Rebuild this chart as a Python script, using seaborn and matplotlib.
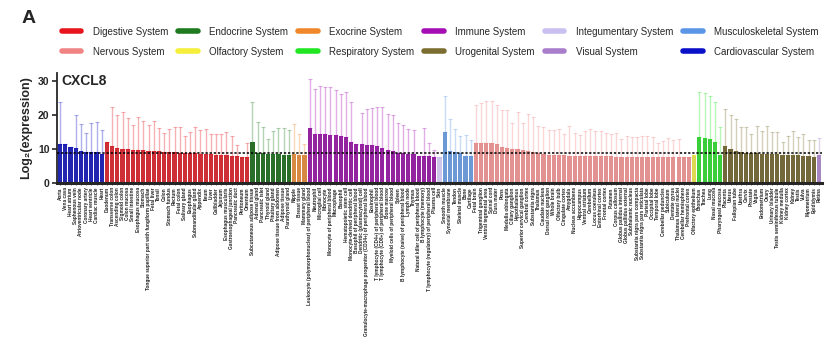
import numpy as np
import pandas as pd
import matplotlib
matplotlib.use("Agg")
import matplotlib.pyplot as plt
from matplotlib.lines import Line2D
import seaborn as sns

# ---------------- data ----------------
cardio_tissues = ["Aorta", "Vena cava", "Heart atrium", "Saphenous vein", "Atrioventricular node",
                  "Coronary artery", "Heart ventricle", "Cardiac muscle", "Heart"]
cardio_mean = [11.6, 11.5, 10.5, 10.4, 9.6, 9.2, 9.1, 9.1, 8.6]
cardio_sd = [12.3, 0, 0, 9.6, 7.9, 5.5, 8.5, 8.9, 7.0]

digest_tissues = ["Duodenum", "Transverse colon", "Ascending colon", "Sigmoid colon", "Colon mucosa",
                  "Small intestine", "Esophagus mucosa", "Stomach",
                  "Tongue superior part with fungiform papillae", "Fetal liver", "Tonsil", "Colon",
                  "Stomach fundus", "Rectum", "Fetal colon", "Salivary gland", "Esophagus",
                  "Submandibular gland", "Appendix", "Ileum", "Liver", "Gallbladder", "Jejunum",
                  "Esophagus muscularis", "Gastroesophageal junction", "Pancreatic duct",
                  "Peritoneum", "Omentum"]
digest_mean = [12.0, 11.0, 10.2, 10.0, 9.9, 9.8, 9.8, 9.7, 9.6, 9.5, 9.4, 9.3, 9.2, 9.1, 9.0, 9.0,
               8.9, 8.8, 8.7, 8.6, 8.5, 8.4, 8.3, 8.2, 8.1, 7.9, 7.7, 7.6]
digest_sd = [0, 11.6, 10.0, 11.0, 9.4, 7.3, 9.7, 8.7, 7.6, 8.7, 6.8, 5.5, 6.8, 7.5, 7.6, 4.8, 6.2,
             7.8, 7.1, 7.3, 6.1, 6.1, 6.2, 6.8, 5.7, 3.2, 0, 4.3]

endo_tissues = ["Subcutaneous adipose tissue", "Adrenal gland", "Pancreatic islet", "Thyroid gland",
                "Pituitary gland", "Adipose tissue from abdomen", "Adipose tissue", "Parathyroid gland"]
endo_mean = [12.2, 8.9, 8.8, 8.7, 8.6, 8.5, 8.4, 8.3]
endo_sd = [11.6, 9.1, 7.6, 4.4, 6.9, 7.8, 7.8, 7.5]

exo_tissues = ["Nipple", "Breast tissue", "Mammary gland"]
exo_mean = [8.6, 8.4, 8.3]
exo_sd = [8.9, 6.2, 3.3]

immune_tissues = ["Leukocyte (polymorphonuclear) of peripheral blood", "Neutrophil", "Microglial cell",
                  "Monocyte", "Monocyte of peripheral blood", "Macrophage", "Basophil",
                  "Hematopoietic stem cell", "Monocyte-derived dendritic cell",
                  "Basophil of peripheral blood", "Dendritic (plasmacytoid) cell",
                  "Granulocyte-macrophage progenitor (CD34+) of peripheral blood", "Eosinophil",
                  "T lymphocyte (CD4+) of peripheral blood", "T lymphocyte (CD8+) of peripheral blood",
                  "Bone marrow", "Myeloid cells of peripheral blood", "Spleen",
                  "B lymphocyte (naive) of peripheral blood", "Lymph node", "Thymus",
                  "Natural killer cell of peripheral blood", "B lymphocyte (memory)",
                  "T lymphocyte (regulatory) of peripheral blood", "Plasma cell"]
immune_mean = [16.2, 14.6, 14.5, 14.5, 14.3, 14.1, 13.9, 13.7, 12.1, 11.6, 11.5, 11.3, 11.1, 10.8,
               10.2, 9.8, 9.5, 8.9, 8.8, 8.7, 8.5, 7.9, 7.9, 7.9, 7.8]
immune_sd = [14.6, 13.1, 14.3, 14.0, 14.0, 13.3, 12.5, 13.3, 11.7, 0, 9.1, 10.5, 11.2, 11.6, 12.4,
             10.7, 10.5, 8.8, 8.4, 7.3, 7.2, 0, 8.3, 3.9, 2.0]

integ_tissues = ["Skin"]
integ_mean = [7.8]
integ_sd = [0]

musc_tissues = ["Smooth muscle", "Synovial membrane", "Tendon", "Skeletal muscle", "Bone", "Cartilage"]
musc_mean = [15.0, 9.4, 9.1, 9.0, 7.9, 7.9]
musc_sd = [10.8, 9.6, 6.8, 5.0, 6.2, 4.9]

nerv_tissues = ["Fetal brain", "Trigeminal ganglion", "Ventral tegmental area", "Spinal cord",
                "Dura mater", "Pons", "Medulla oblongata", "Ciliary ganglion", "Hypothalamus",
                "Superior cervical ganglion", "Cerebral cortex", "Substantia nigra", "Thalamus",
                "Caudate nucleus", "Dorsal root ganglion", "Whole brain", "Olfactory bulb",
                "Cingulate cortex", "Amygdala", "Nucleus accumbens", "Hippocampus",
                "Ventral striatum", "Cerebellum", "Locus coeruleus", "Entorhinal cortex",
                "Frontal cortex", "Putamen", "Corpus callosum", "Globus pallidus internal",
                "Globus pallidus external", "Subthalamic nucleus", "Substantia nigra pars compacta",
                "Substantia nigra pars reticulata", "Parietal lobe", "Occipital lobe",
                "Temporal lobe", "Cerebellar peduncles", "Subiculum", "Dentate gyrus",
                "Thalamus lateral nuclei", "Cerebellar hemisphere", "Prefrontal cortex"]
nerv_mean = [11.8, 11.8, 11.8, 11.8, 11.6, 10.6, 10.4, 10.1, 10.0, 9.7, 9.5, 9.2, 8.8, 8.5, 8.4,
             8.3, 8.2, 8.2, 8.1, 8.1, 8.0, 8.0, 8.0, 7.9, 7.9, 7.9, 7.9, 7.8, 7.8, 7.8, 7.8, 7.8,
             7.8, 7.8, 7.8, 7.7, 7.7, 7.7, 7.7, 7.7, 7.6, 7.6]
nerv_sd = [11.3, 11.8, 12.5, 12.5, 11.3, 10.9, 11.1, 7.6, 10.9, 8.0, 10.9, 10.3, 8.1, 8.0, 7.3, 7.4,
           7.7, 6.3, 8.6, 6.8, 6.3, 7.3, 7.9, 7.6, 7.6, 6.8, 6.6, 6.9, 5.3, 6.1, 5.9, 5.9, 6.1,
           6.1, 5.7, 4.2, 4.8, 5.5, 5.0, 5.3, 0, 0]

olf_tissues = ["Olfactory epithelium"]
olf_mean = [8.3]
olf_sd = [0]

resp_tissues = ["Bronchus", "Trachea", "Lung", "Nasal mucosa", "Pharyngeal mucosa"]
resp_mean = [13.5, 13.3, 13.0, 12.0, 8.4]
resp_sd = [13.5, 13.3, 12.6, 11.8, 8.1]

uro_tissues = ["Placenta", "Uterus", "Fallopian tube", "Urethra", "Cervix", "Prostate", "Vagina",
               "Endometrium", "Ovary", "Urinary bladder", "Testis seminiferous tubule",
               "Kidney medulla", "Kidney cortex", "Kidney", "Testis", "Vulva", "Myometrium",
               "Epididymis"]
uro_mean = [11.0, 10.0, 9.6, 9.1, 9.0, 8.9, 8.8, 8.7, 8.6, 8.5, 8.5, 8.4, 8.3, 8.3, 8.2, 8.1, 8.0, 7.6]
uro_sd = [10.9, 10.2, 9.3, 7.4, 7.5, 5.6, 7.9, 6.8, 8.1, 6.7, 6.7, 3.8, 5.6, 7.2, 5.4, 6.4, 4.7, 5.2]

vis_tissues = ["Retina"]
vis_mean = [8.3]
vis_sd = [5.0]

threshold = 9.0

systems = [
    ("Cardiovascular System", "#0A0FC8", cardio_tissues, cardio_mean, cardio_sd),
    ("Digestive System", "#E8141E", digest_tissues, digest_mean, digest_sd),
    ("Endocrine System", "#1E7A1E", endo_tissues, endo_mean, endo_sd),
    ("Exocrine System", "#F0872A", exo_tissues, exo_mean, exo_sd),
    ("Immune System", "#A40EB4", immune_tissues, immune_mean, immune_sd),
    ("Integumentary System", "#C9C0F0", integ_tissues, integ_mean, integ_sd),
    ("Musculoskeletal System", "#5B95E6", musc_tissues, musc_mean, musc_sd),
    ("Nervous System", "#F08484", nerv_tissues, nerv_mean, nerv_sd),
    ("Olfactory System", "#F5EE3A", olf_tissues, olf_mean, olf_sd),
    ("Respiratory System", "#22E622", resp_tissues, resp_mean, resp_sd),
    ("Urogenital System", "#7C6E30", uro_tissues, uro_mean, uro_sd),
    ("Visual System", "#A87DCB", vis_tissues, vis_mean, vis_sd),
]

rows = []
for sysname, col, tis, mean, sd in systems:
    for t, m, s in zip(tis, mean, sd):
        rows.append({"tissue": t, "value": m, "sd": s, "system": sysname})
df = pd.DataFrame(rows)
order = list(df["tissue"])
palette = {s[0]: s[1] for s in systems}

# ---------------- plot ----------------
sns.set_style("ticks")
plt.rcParams["font.family"] = ["Liberation Sans", "DejaVu Sans"]

fig = plt.figure(figsize=(8.27, 3.38), dpi=100)
ax = fig.add_axes([0.069, 0.4586, 0.925, 0.3254])

sns.barplot(data=df, x="tissue", y="value", hue="system", palette=palette, order=order,
            dodge=False, errorbar=None, width=0.8, legend=False, ax=ax, linewidth=0)

pos = {t: i for i, t in enumerate(order)}
for sysname, col, tis, mean, sd in systems:
    xs = [pos[t] for t in tis]
    ax.errorbar(xs, mean, yerr=[np.zeros(len(sd)), sd], fmt="none", ecolor=col,
                alpha=0.33, elinewidth=1.0, capsize=1.2, capthick=0.8)

ax.axhline(threshold, color="black", ls=(0, (1.5, 1.2)), lw=1.1, zorder=5)

ax.set_xlim(-0.6, len(order) - 0.4)
ax.set_ylim(0, 32.5)
ax.set_yticks([0, 10, 20, 30])
ax.set_xlabel("")
ax.set_ylabel("Log\u2082(expression)", fontsize=9, fontweight="bold", labelpad=4)
ax.tick_params(axis="y", labelsize=7.5, width=1.2, length=3.5, pad=2)
for lab in ax.get_yticklabels():
    lab.set_fontweight("bold")
ax.set_xticks(range(len(order)))
ax.set_xticklabels(order, rotation=90, fontsize=3.4, fontweight="bold", color="#222222")
ax.tick_params(axis="x", length=1.5, width=0.5, pad=1.5)
sns.despine(ax=ax)
ax.spines["left"].set_linewidth(1.3)
ax.spines["bottom"].set_linewidth(2.2)

ax.text(0.006, 0.93, "CXCL8", transform=ax.transAxes, fontsize=10, fontweight="bold",
        va="center", ha="left")
fig.text(0.026, 0.945, "A", fontsize=14, fontweight="bold", va="center", ha="left")

legend_order = ["Digestive System", "Nervous System", "Endocrine System", "Olfactory System",
                "Exocrine System", "Respiratory System", "Immune System", "Urogenital System",
                "Integumentary System", "Visual System", "Musculoskeletal System",
                "Cardiovascular System"]
handles = [Line2D([0], [0], color=palette[n], lw=4) for n in legend_order]
fig.legend(handles, legend_order, ncol=6, loc="lower left",
           bbox_to_anchor=(0.075, 0.832, 0.915, 0.1), mode="expand", frameon=False,
           fontsize=7, handlelength=2.0, handletextpad=1.2, labelspacing=1.05,
           borderaxespad=0, borderpad=0)

fig.savefig("out.png", dpi=100)
